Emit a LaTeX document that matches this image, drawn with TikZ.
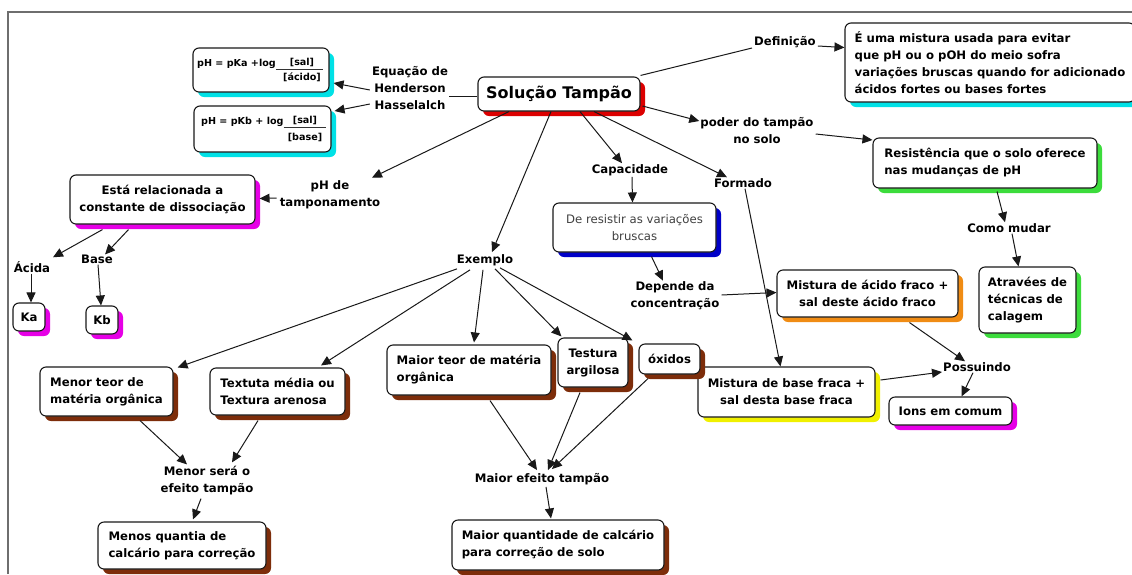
\documentclass[tikz,border=0pt]{standalone}
\usepackage{fontspec}
\setmainfont{DejaVu Sans}
\usetikzlibrary{arrows.meta,calc,shadows}
\definecolor{shcyan}{RGB}{0,225,230}
\definecolor{shred}{RGB}{220,0,0}
\definecolor{shmag}{RGB}{230,0,230}
\definecolor{shblue}{RGB}{0,0,200}
\definecolor{shgreen}{RGB}{60,220,60}
\definecolor{shorange}{RGB}{240,140,20}
\definecolor{shyellow}{RGB}{240,240,0}
\definecolor{shbrown}{RGB}{125,45,10}
\definecolor{framegray}{RGB}{110,110,110}
\newcommand\lbf{\fontsize{11.7}{17}\selectfont\bfseries}
\newcommand\frf{\fontsize{9.6}{10}\selectfont\bfseries}
\begin{document}
\begin{tikzpicture}[x=1pt,y=-1pt,
  lbl/.style={font=\lbf,align=center,inner sep=1pt},
  cbox/.style={draw=black!90,line width=1.1pt,rounded corners=6pt,fill=white,font=\lbf,inner sep=0pt,align=left,
     drop shadow={shadow xshift=5pt,shadow yshift=-5pt,fill=#1,opacity=1}},
  wh/.style 2 args={minimum width=#1,minimum height=#2},
  frt/.style={font=\frf,inner sep=0pt},
  ln/.style={draw=black!90,line width=1pt},
  arr/.style={ln,-{Triangle[length=10pt,width=9pt]}},
]
\useasboundingbox (0,0) rectangle (1132,574);
\fill[white] (0,0) rectangle (1132,574);
\draw[framegray,line width=1.5pt] (8,574) -- (8,12) -- (1132,12);

% boxes
\node[cbox=shcyan,wh={136pt}{44pt}] (f1) at (261,70) {};
\node[cbox=shcyan,wh={137pt}{46pt}] (f2) at (262.5,129) {};
\node[cbox=shred,wh={162pt}{34pt},font=\fontsize{16}{18}\selectfont\bfseries] (sol) at (559,94) {Solução Tampão};
\node[cbox=shcyan,wh={290pt}{79pt}] (def) at (990,62.5) {É uma mistura usada para evitar\\que pH ou o pOH do meio sofra\\variações bruscas quando for adicionado\\ácidos fortes ou bases fortes};
\node[cbox=shgreen,wh={224pt}{50pt}] (res) at (985,163) {Resistência que o solo oferece\\nas mudanças de pH};
\node[cbox=shgreen,wh={97pt}{66pt}] (atr) at (1027.5,300) {Atravées de\\técnicas de\\calagem};
\node[cbox=shblue,wh={163pt}{49pt},align=center,font=\fontsize{11.7}{17}\selectfont,text=black!75] (desr) at (634.5,227.5) {De resistir as variações\\bruscas};
\node[cbox=shorange,wh={181pt}{47pt},align=center] (mac) at (867.5,293.5) {Mistura de ácido fraco +\\sal deste ácido fraco};
\node[cbox=shyellow,wh={177pt}{50pt},align=center] (mba) at (786.5,392) {Mistura de base fraca +\\sal desta base fraca};
\node[cbox=shmag,wh={123pt}{28pt}] (ions) at (950.5,411) {Ions em comum};
\node[cbox=shmag,wh={185pt}{49pt},align=center] (esta) at (162.5,199.5) {Está relacionada a\\constante de dissociação};
\node[cbox=shmag,wh={32pt}{28pt}] (ka) at (29,317) {Ka};
\node[cbox=shmag,wh={32pt}{28pt}] (kb) at (102,320) {Kb};
\node[cbox=shbrown,wh={133pt}{49pt}] (mte) at (106.5,391.5) {Menor teor de\\matéria orgânica};
\node[cbox=shbrown,wh={135pt}{47pt}] (tex) at (277.5,391.5) {Textuta média ou\\Textura arenosa};
\node[cbox=shbrown,wh={168pt}{47pt}] (menos) at (182,545.5) {Menos quantia de\\calcário para correção};
\node[cbox=shbrown,wh={164pt}{50pt}] (mai) at (469,370) {Maior teor de matéria\\orgânica};
\node[cbox=shbrown,wh={70pt}{49pt},align=center] (tes) at (593,362.5) {Testura\\argilosa};
\node[cbox=shbrown,wh={61pt}{30pt}] (oxi) at (669.5,359) {óxidos};
\node[cbox=shbrown,wh={212pt}{50pt}] (mq) at (558,545) {Maior quantidade de calcário\\para correção de solo};

% formula texts
\node[frt,anchor=west] (f1a) at (197,64) {pH = pKa +log};
\node[frt] (f1b) at (302,62) {[sal]};
\node[frt] (f1c) at (302,77) {[ácido]};
\draw[black!80,line width=0.7pt] (f1a.east |- 0,69) -- (323,69);
\node[frt,anchor=west] (f2a) at (201,122) {pH = pKb + log};
\node[frt] (f2b) at (305,120) {[sal]};
\node[frt] (f2c) at (305,137) {[base]};
\draw[black!80,line width=0.7pt] (f2a.east |- 0,127) -- (326,127);

% labels
\node[lbl] (eq) at (410,88) {Equação de\\Henderson\\Hasselalch};
\node[lbl] (defl) at (785,42) {Definição};
\node[lbl] (pod) at (757,131) {poder do tampão\\no solo};
\node[lbl] (cap) at (630,170) {Capacidade};
\node[lbl] (form) at (743,183) {Formado};
\node[lbl] (dep) at (675,296) {Depende da\\concentração};
\node[lbl] (pos) at (977,367) {Possuindo};
\node[lbl] (como) at (1009,228) {Como mudar};
\node[lbl] (phde) at (330,195) {pH de\\tamponamento};
\node[lbl] (acida) at (32,267) {Ácida};
\node[lbl] (base) at (97,259) {Base};
\node[lbl] (exe) at (485,260) {Exemplo};
\node[lbl] (ms) at (207,481) {Menor será o\\efeito tampão};
\node[lbl] (mef) at (542,479) {Maior efeito tampão};

% connectors
\draw[ln] ($(sol.west)+(0,2)$) -- ($(eq.east)+(0,8)$);
\draw[arr] ($(eq.west)+(-1,2)$) -- ($(f1.east)+(4,13)$);
\draw[arr] ($(eq.west)+(-1,16)$) -- ($(f2.east)+(3,-18)$);
\draw[ln] ($(sol.north east)+(0,-1)$) -- ($(defl.west)+(-1,6)$);
\draw[arr] ($(defl.east)+(1,4)$) -- ($(def.west)+(0,-15)$);
\draw[arr] ($(sol.east)+(2,12)$) -- ($(pod.west)+(0,-10)$);
\draw[arr] ($(pod.east)+(1,3)$) -- ($(res.west)+(0,-23)$);
\draw[arr] ($(res.south)+(12,3)$) -- ($(como.north)+(-4,0)$);
\draw[arr] ($(como.south)+(3,0)$) -- ($(atr.north)+(-9,0)$);
\draw[arr] ($(sol.south)+(21,0)$) -- ($(cap.north)+(-8,0)$);
\draw[arr] ($(cap.south)+(2,0)$) -- ($(desr.north)+(-2,0)$);
\draw[arr] ($(desr.south)+(17,4)$) -- ($(dep.north)+(-12,0)$);
\draw[arr] ($(dep.east)+(1,-1)$) -- ($(mac.west)+(0,-1)$);
\draw[arr] ($(sol.south)+(35,0)$) -- ($(form.north)+(-16,0)$);
\draw[arr] ($(form.south)+(2,0)$) -- ($(mba.north)+(-6,0)$);
\draw[arr] ($(mac.south)+(42,5)$) -- ($(pos.north)+(-12,0)$);
\draw[arr] ($(mba.east)+(5,-12)$) -- ($(pos.west)+(0,5)$);
\draw[arr] ($(pos.south)+(-4,0)$) -- ($(ions.north)+(11,0)$);
\draw[arr] ($(sol.south)+(-50,0)$) -- ($(phde.north)+(42,-2)$);
\draw[arr] ($(phde.west)+(-2,3)$) -- ($(esta.east)+(4,-1)$);
\draw[arr] ($(esta.south)+(-60,5)$) -- ($(acida.north)+(21,-3)$);
\draw[arr] ($(esta.south)+(-34,5)$) -- ($(base.north)+(8,1)$);
\draw[arr] ($(acida.south)+(-1,0)$) -- ($(ka.north)+(2,0)$);
\draw[arr] ($(base.south)+(1,0)$) -- ($(kb.north)+(-1,0)$);
\draw[arr] ($(sol.south)+(-8,0)$) -- ($(exe.north)+(7,-1)$);
\draw[arr] ($(exe.south)+(-28,2)$) -- ($(mte.north east)+(4,1)$);
\draw[arr] ($(exe.south)+(-15,3)$) -- ($(tex.north)+(43.5,-2)$);
\draw[arr] ($(exe.south)+(-2,3)$) -- ($(mai.north)+(5,-2)$);
\draw[arr] ($(exe.south)+(10,2)$) -- ($(tes.north west)+(4,-1)$);
\draw[arr] ($(exe.south)+(15,1)$) -- ($(oxi.north west)+(-6,-3)$);
\draw[arr] ($(mte.south)+(33.5,4)$) -- ($(ms.north)+(-20,-1)$);
\draw[arr] ($(tex.south)+(-19.5,5)$) -- ($(ms.north)+(25,-3)$);
\draw[arr] ($(ms.south)+(-6,2)$) -- ($(menos.north)+(11,-2)$);
\draw[arr] ($(mai.south)+(21,5)$) -- ($(mef.north)+(-5,-2)$);
\draw[arr] ($(tes.south)+(-13,5)$) -- ($(mef.north)+(6,-2)$);
\draw[arr] ($(oxi.south)+(-21.5,4)$) -- ($(mef.north)+(10,-3)$);
\draw[arr] ($(mef.south)+(4,1)$) -- ($(mq.north)+(-7,-1)$);
\end{tikzpicture}
\end{document}
